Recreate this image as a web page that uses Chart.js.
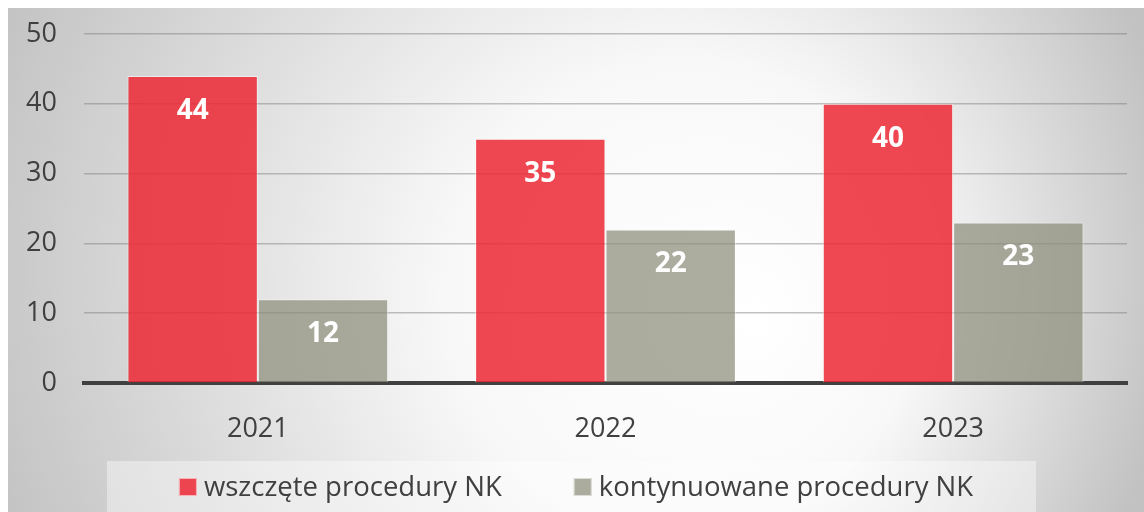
<!DOCTYPE html>
<html><head><meta charset="utf-8">
<script src="https://cdn.jsdelivr.net/npm/chart.js@4.4.1/dist/chart.umd.min.js"></script>
<style>html,body{margin:0;padding:0;background:#fff;} canvas{display:block;}</style>
</head><body>
<canvas id="c" width="1144" height="512"></canvas>
<script>
const categories = ['2021', '2022', '2023'];
const seriesNames = ['wszczęte procedury NK', 'kontynuowane procedury NK'];
const startedValues = [44, 35, 40];
const continuedValues = [12, 22, 23];
const yTickValues = [0, 10, 20, 30, 40, 50];

const FONT = '"Open Sans", "Noto Sans", sans-serif';
const TEXT = '#404040';
const RED = 'rgba(237,40,52,0.85)';
const GRAY = 'rgba(140,140,122,0.72)';

const bgPlugin = {
  id: 'bg',
  beforeDraw(chart) {
    const ctx = chart.ctx;
    const W = chart.width, H = chart.height;
    ctx.save();
    ctx.fillStyle = '#ffffff';
    ctx.fillRect(0, 0, W, H);
    const g = ctx.createRadialGradient(760, 320, 0, 560, 260, 620);
    g.addColorStop(0, '#ffffff');
    g.addColorStop(0.38, '#f8f8f8');
    g.addColorStop(1, '#c2c2c2');
    ctx.fillStyle = g;
    ctx.fillRect(8, 8, W - 8, H - 8);
    ctx.fillStyle = 'rgba(255,255,255,0.4)';
    ctx.fillRect(107, 461, 929, H - 461);
    ctx.restore();
  }
};

const valueLabels = {
  id: 'valueLabels',
  afterDatasetsDraw(chart) {
    const ctx = chart.ctx;
    ctx.save();
    ctx.fillStyle = '#ffffff';
    ctx.font = 'bold 28px ' + FONT;
    ctx.textAlign = 'center';
    ctx.textBaseline = 'middle';
    chart.data.datasets.forEach((ds, i) => {
      const meta = chart.getDatasetMeta(i);
      meta.data.forEach((el, j) => {
        ctx.fillText(String(ds.data[j]), el.x, el.y + 35);
      });
    });
    ctx.restore();
  }
};

const customLegend = {
  id: 'customLegend',
  afterDraw(chart) {
    const ctx = chart.ctx;
    ctx.save();
    ctx.font = '27.5px ' + FONT;
    const box = 18, gapText = 7, gapItem = 72;
    const items = chart.data.datasets.map(ds => ({
      label: ds.label, color: ds.backgroundColor, w: ctx.measureText(ds.label).width
    }));
    let total = 0;
    items.forEach((it, i) => { total += box + gapText + it.w + (i ? gapItem : 0); });
    let x = 576 - total / 2;
    const cy = 487;
    items.forEach((it, i) => {
      if (i) x += gapItem;
      ctx.fillStyle = it.color;
      ctx.fillRect(x, cy - box / 2, box, box);
      ctx.strokeStyle = 'rgba(255,255,255,0.6)';
      ctx.lineWidth = 1;
      ctx.strokeRect(x + 0.5, cy - box / 2 + 0.5, box - 1, box - 1);
      x += box + gapText;
      ctx.fillStyle = TEXT;
      ctx.textAlign = 'left';
      ctx.textBaseline = 'middle';
      ctx.fillText(it.label, x, cy + 1);
      x += it.w;
    });
    ctx.restore();
  }
};

new Chart(document.getElementById('c'), {
  type: 'bar',
  data: {
    labels: categories,
    datasets: [
      { label: seriesNames[0], data: startedValues, backgroundColor: RED,
        borderColor: 'rgba(255,255,255,0.5)', borderWidth: 1 },
      { label: seriesNames[1], data: continuedValues, backgroundColor: GRAY,
        borderColor: 'rgba(255,255,255,0.5)', borderWidth: 1 }
    ]
  },
  options: {
    responsive: false,
    animation: false,
    layout: { padding: { top: 34, right: 17, left: 0, bottom: 0 } },
    datasets: { bar: { categoryPercentage: 0.75, barPercentage: 1.0 } },
    plugins: { legend: { display: false }, tooltip: { enabled: false } },
    scales: {
      x: {
        z: 1,
        grid: { display: false },
        border: { display: true, color: '#404040', width: 4 },
        ticks: { color: TEXT, font: { family: FONT, size: 27 }, padding: 22 },
        afterFit(s) { s.height = 129; s.paddingLeft = 0; s.paddingRight = 0; }
      },
      y: {
        min: 0, max: 50,
        afterBuildTicks(s) { s.ticks = yTickValues.map(v => ({ value: v })); },
        grid: { color: 'rgba(120,120,120,0.45)', lineWidth: 1.5, drawTicks: false },
        border: { display: false },
        ticks: { color: TEXT, font: { family: FONT, size: 27 }, padding: 27 },
        afterFit(s) { s.width = 84; s.paddingTop = 0; s.paddingBottom = 0; }
      }
    }
  },
  plugins: [bgPlugin, valueLabels, customLegend]
});
</script>
</body></html>
